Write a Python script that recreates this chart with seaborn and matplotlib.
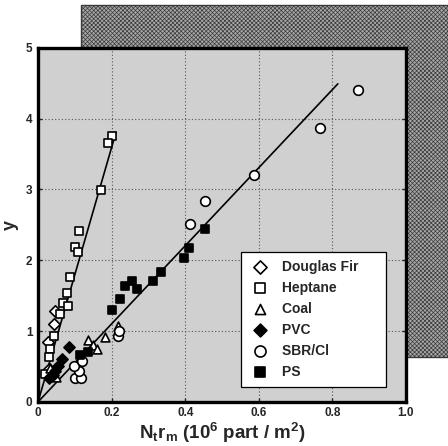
import numpy as np
import pandas as pd
import matplotlib
matplotlib.use("Agg")
import matplotlib.pyplot as plt
from matplotlib.patches import Rectangle
import seaborn as sns

# data
fir_x = [0.045, 0.042, 0.027, 0.030]
fir_y = [1.28, 1.10, 0.85, 0.47]

hep_x = [0.200, 0.190, 0.170, 0.112, 0.100, 0.108, 0.087, 0.078, 0.068, 0.081, 0.060, 0.042, 0.033, 0.030, 0.019]
hep_y = [3.76, 3.66, 2.99, 2.41, 2.19, 2.11, 1.76, 1.53, 1.39, 1.36, 1.24, 0.93, 0.74, 0.63, 0.39]

coal_x = [0.137, 0.150, 0.160, 0.183, 0.218, 0.050, 0.032]
coal_y = [0.88, 0.80, 0.74, 0.91, 1.07, 0.35, 0.48]

pvc_x = [0.083, 0.065, 0.055, 0.046, 0.030, 0.040]
pvc_y = [0.77, 0.60, 0.50, 0.43, 0.33, 0.38]

sbr_x = [0.100, 0.117, 0.110, 0.098, 0.120, 0.218, 0.220, 0.414, 0.455, 0.586, 0.766, 0.869]
sbr_y = [0.33, 0.33, 0.43, 0.50, 0.57, 0.93, 1.00, 2.51, 2.83, 3.20, 3.86, 4.40]

ps_x = [0.453, 0.410, 0.396, 0.335, 0.313, 0.255, 0.237, 0.270, 0.224, 0.200, 0.115, 0.135]
ps_y = [2.44, 2.17, 2.03, 1.84, 1.71, 1.71, 1.64, 1.60, 1.45, 1.30, 0.66, 0.71]

fit1_x = [0.0, 0.212]
fit1_y = [0.0, 3.81]
fit2_x = [0.0, 0.815]
fit2_y = [0.0, 4.49]

sns.set_theme(style="ticks")
plt.rcParams["font.family"] = ["Liberation Sans", "DejaVu Sans"]
plt.rcParams["font.weight"] = "bold"
plt.rcParams["mathtext.fontset"] = "custom"
plt.rcParams["mathtext.rm"] = "Liberation Sans:bold"
plt.rcParams["mathtext.it"] = "Liberation Sans:bold"
plt.rcParams["mathtext.bf"] = "Liberation Sans:bold"
plt.rcParams["hatch.color"] = "#5a5a5a"
plt.rcParams["hatch.linewidth"] = 0.5

fig = plt.figure(figsize=(4.48, 4.46), dpi=100)
fig.patch.set_facecolor("white")

# drop shadow behind the plot
shadow = Rectangle((0.181, 0.200), 0.819, 0.789, transform=fig.transFigure,
                   facecolor="#a8a8a8", edgecolor="#3a3a3a", hatch="xxxxxxxx",
                   linewidth=1.0, zorder=-5)
fig.add_artist(shadow)

ax = fig.add_axes([0.085, 0.099, 0.821, 0.794])
ax.set_zorder(2)
ax.set_facecolor("#d0d0d0")

series = [
    ("Douglas Fir", fir_x, fir_y, "D", "white", 34),
    ("Heptane", hep_x, hep_y, "s", "white", 36),
    ("Coal", coal_x, coal_y, "^", "white", 40),
    ("PVC", pvc_x, pvc_y, "D", "black", 32),
    ("SBR/Cl", sbr_x, sbr_y, "o", "white", 48),
    ("PS", ps_x, ps_y, "s", "black", 36),
]

sns.lineplot(x=fit1_x, y=fit1_y, color="black", lw=1.2, ax=ax, zorder=2)
sns.lineplot(x=fit2_x, y=fit2_y, color="black", lw=1.2, ax=ax, zorder=2)

for name, xs, ys, mk, fc, sz in series:
    sns.scatterplot(x=xs, y=ys, marker=mk, s=sz, facecolor=fc,
                    edgecolor="black", linewidth=1.2, ax=ax, zorder=3,
                    label=name + "     ")

ax.set_xlim(0, 1.0)
ax.set_ylim(0, 5)
ax.set_xticks([0, 0.2, 0.4, 0.6, 0.8, 1.0])
ax.set_xticklabels(["0", "0.2", "0.4", "0.6", "0.8", "1.0"])
ax.set_yticks([0, 1, 2, 3, 4, 5])
ax.tick_params(direction="in", length=3, width=1, labelsize=8.5, pad=4,
               top=False, right=True)
for lab in ax.get_xticklabels() + ax.get_yticklabels():
    lab.set_fontweight("bold")
ax.grid(True, color="#555555", linestyle=(0, (1, 2)), linewidth=0.8)
for sp in ax.spines.values():
    sp.set_linewidth(2.4)
    sp.set_color("black")

ax.set_xlabel("N$_\\mathrm{t}$r$_\\mathrm{m}$ (10$^\\mathrm{6}$ part / m$^\\mathrm{2}$)",
              fontsize=13.5, fontweight="bold", labelpad=1)
ax.set_ylabel("y", fontsize=13, fontweight="bold", labelpad=5, rotation=90)

leg = ax.legend(loc="lower left", bbox_to_anchor=(0.553, 0.042),
                frameon=True, fancybox=False, framealpha=1.0,
                edgecolor="black", facecolor="white", fontsize=10,
                handlelength=1.4, handletextpad=0.9, labelspacing=0.5,
                borderpad=0.6, borderaxespad=0.0, markerscale=1.15)
leg.get_frame().set_linewidth(0.9)
for t in leg.get_texts():
    t.set_fontweight("bold")

fig.savefig("out.png", dpi=100)
